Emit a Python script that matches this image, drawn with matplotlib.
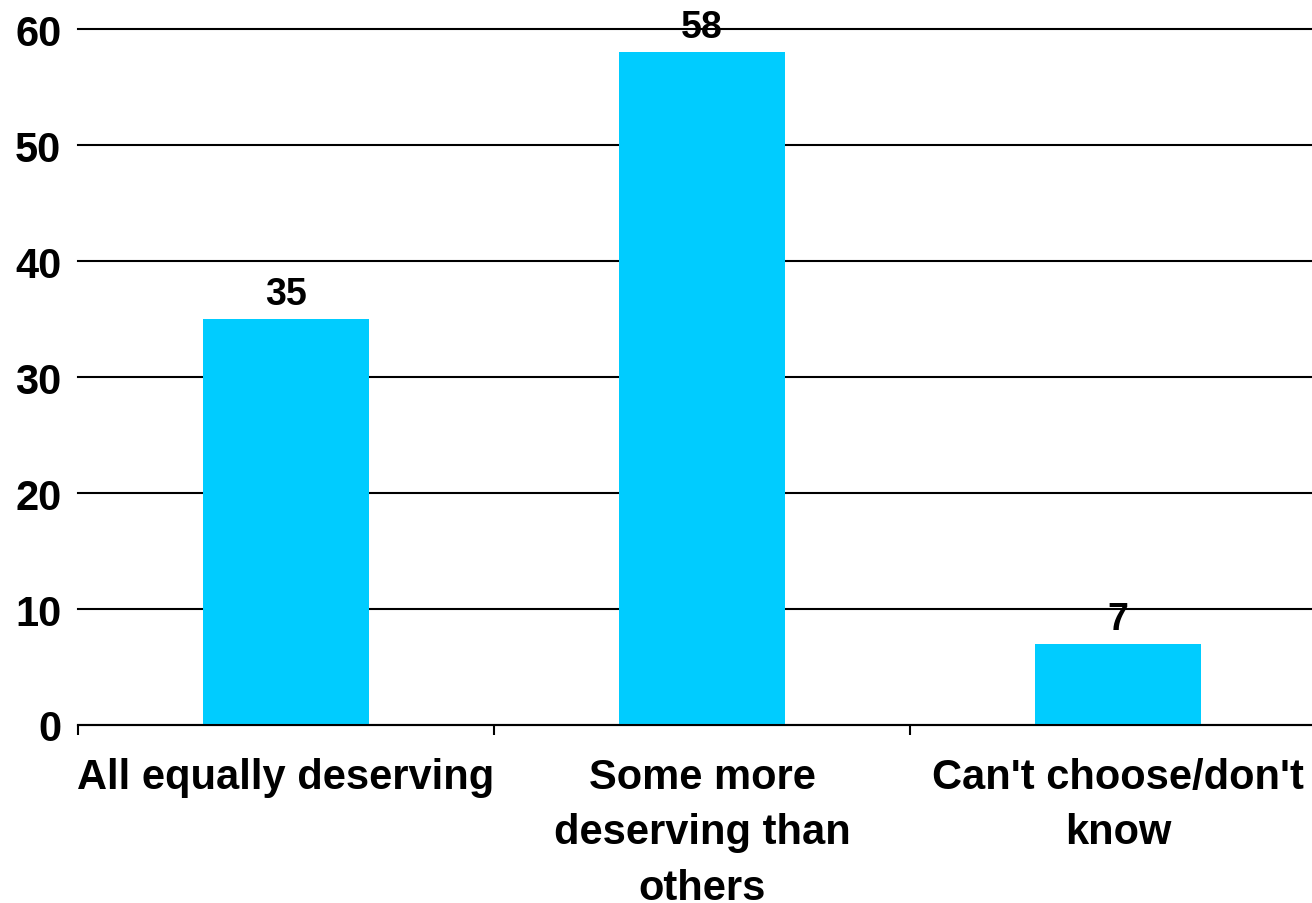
import matplotlib
matplotlib.use("Agg")
import matplotlib.pyplot as plt

categories = ["All equally deserving", "Some more\ndeserving than\nothers", "Can't choose/don't\nknow"]
values = [35, 58, 7]
yticks = [0, 10, 20, 30, 40, 50, 60]

plt.rcParams['font.family'] = ['Liberation Sans', 'DejaVu Sans']
plt.rcParams['font.weight'] = 'bold'

fig = plt.figure(figsize=(13.12, 9.04), dpi=100)
ax = fig.add_axes([78/1312, 178/904, 1248/1312, 696/904])

x = list(range(len(categories)))
bars = ax.bar(x, values, width=0.40, color='#00CCFF', zorder=3)
ax.set_xlim(-0.5, 2.5)
ax.set_ylim(0, 60)
ax.set_yticks(yticks)
ax.set_yticklabels([str(t) for t in yticks], fontsize=30, fontweight='bold')
ax.yaxis.grid(True, color='black', linewidth=1.5, zorder=1)
for gl in ax.get_ygridlines():
    gl.set_clip_on(False)
ax.set_axisbelow(True)
ax.tick_params(axis='y', length=0, pad=12)

ax.set_xticks([-0.5, 0.5, 1.5, 2.5])
ax.set_xticklabels([])
ax.set_xticks(x, minor=True)
ax.set_xticklabels(categories, minor=True, fontsize=30, fontweight='bold', linespacing=1.5)
ax.tick_params(axis='x', which='major', length=7, width=1.5, direction='out')
ax.tick_params(axis='x', which='minor', length=0, pad=23)

for s in ['left', 'right', 'top']:
    ax.spines[s].set_visible(False)
ax.spines['bottom'].set_linewidth(1.5)
ax.spines['bottom'].set_zorder(4)

for xi, v in zip(x, values):
    ax.annotate(str(v), (xi, v), xytext=(0, 5), textcoords='offset points',
                ha='center', va='bottom', fontsize=27, fontweight='bold', zorder=5)

fig.savefig('out.png', dpi=100)
